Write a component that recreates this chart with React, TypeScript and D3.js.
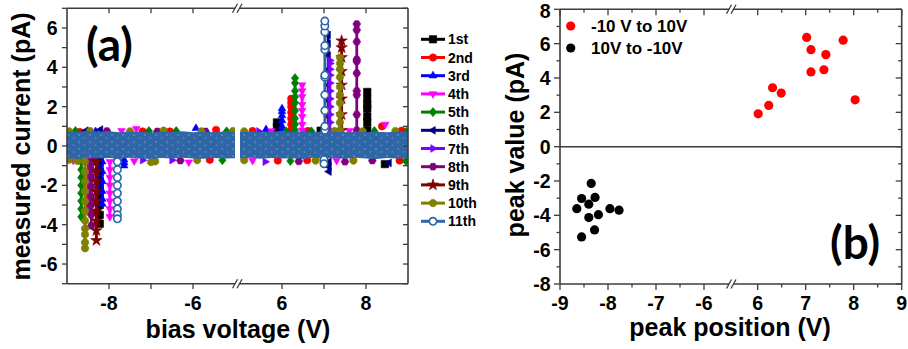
import React from 'react';
import * as d3 from 'd3';

// ---------- shared ----------
const FONT = '"Liberation Sans", Arial, Helvetica, sans-serif';
const LABEL_FONT = 'Lato, "Open Sans", sans-serif';
const AXIS = '#3c3c3c';

// ---------- panel (a) data ----------
const seriesNames = ['1st', '2nd', '3rd', '4th', '5th', '6th', '7th', '8th', '9th', '10th', '11th'];
const seriesColors = ['#000000', '#ff0000', '#0000ff', '#ff00ff', '#008000', '#000080', '#8000ff', '#800080', '#800000', '#808000', '#2e66a8'];
const seriesMarkers = ['square', 'circle', 'triUp', 'triDown', 'diamond', 'triLeft', 'triRight', 'hexagon', 'star', 'pentagon', 'openCircle'];

// envelope of the dense (11th) background sweep, both voltage windows
const bandVoltLeft = [-9, -8.75, -8.5, -8.25, -8, -7.75, -7.5, -7.25, -7, -6.75, -6.5, -6.25, -6, -5.75, -5.5, -5.25, -5];
const bandUpperLeft = [0.74, 0.71, 0.76, 0.72, 0.75, 0.7, 0.74, 0.72, 0.69, 0.74, 0.71, 0.75, 0.7, 0.73, 0.7, 0.74, 0.72];
const bandLowerLeft = [-0.62, -0.66, -0.6, -0.64, -0.61, -0.65, -0.6, -0.63, -0.66, -0.61, -0.64, -0.6, -0.63, -0.65, -0.61, -0.63, -0.62];
const bandVoltRight = [5, 5.25, 5.5, 5.75, 6, 6.25, 6.5, 6.75, 7, 7.25, 7.5, 7.75, 8, 8.25, 8.5, 8.75, 9];
const bandUpperRight = [0.71, 0.74, 0.7, 0.73, 0.76, 0.71, 0.74, 0.7, 0.75, 0.72, 0.7, 0.74, 0.71, 0.73, 0.7, 0.74, 0.72];
const bandLowerRight = [-0.63, -0.6, -0.65, -0.61, -0.64, -0.62, -0.66, -0.6, -0.64, -0.61, -0.65, -0.6, -0.63, -0.66, -0.61, -0.64, -0.62];

// colored points peeking out of the noise band: [series, voltage, current]
const rimPoints: [number, number, number][] = [
  [9, -8.95, 0.74], [4, -8.8, 0.76], [1, -8.7, 0.72], [5, -8.55, 0.78], [9, -8.45, 0.76], [2, -8.32, 0.74],
  [5, -8.2, 0.84], [7, -8.05, 0.76], [3, -7.7, 0.78], [9, -7.5, 0.74], [3, -7.35, 0.88], [1, -7.2, 0.74],
  [4, -7.05, 0.76], [7, -6.85, 0.74], [9, -6.7, 0.78], [1, -6.55, 0.74], [4, -6.4, 0.76], [2, -5.93, 0.9],
  [9, -5.8, 0.74], [7, -5.7, 0.74], [1, -5.45, 0.82], [4, -5.2, 0.74], [9, -5.05, 0.76],
  [9, 5.1, 0.74], [1, 5.3, 0.76], [6, 5.45, 0.74], [2, 5.62, 0.84], [3, 5.75, 0.76], [4, 6.1, 0.74],
  [1, 6.62, 0.76], [4, 6.7, 0.74], [0, 6.92, 0.78], [9, 7.25, 0.76], [3, 7.6, 0.78], [9, 7.92, 0.74],
  [4, 8.2, 0.76], [1, 8.38, 1.0], [3, 8.46, 1.1], [9, 8.7, 0.76], [1, 8.85, 0.78], [4, 8.96, 0.72],
  [9, -8.95, -0.7], [3, -8.85, -0.74], [9, -8.75, -0.76], [7, -8.35, -0.72], [1, -7.8, -0.7],
  [3, -7.4, -0.76], [6, -7.2, -0.72], [9, -7.0, -0.82], [9, -6.9, -0.78], [6, -6.5, -0.72],
  [7, -6.3, -0.74], [3, -6.1, -0.82], [9, -5.9, -0.72], [1, -5.6, -0.7], [4, -5.3, -0.72],
  [9, 5.1, -0.72], [3, 5.3, -0.74], [6, 5.6, -0.8], [1, 5.9, -0.74], [4, 6.2, -0.76], [7, 6.4, -0.78],
  [1, 6.6, -0.72], [9, 6.8, -0.74], [3, 7.3, -0.74], [7, 7.5, -0.8], [9, 7.7, -0.74], [7, 8.15, -0.74],
  [0, 8.45, -0.92], [5, 8.55, -0.86], [1, 8.8, -0.74], [4, 8.95, -0.76],
];

// current spikes: [series, voltage, sampled currents]
const spikes: [number, number, number[]][] = [
  [0, 8.03, [0.8, 1.2, 1.5, 1.9, 2.1, 2.4, 2.75]],
  [0, 5.88, [0.7, 0.95, 1.2]],
  [0, -8.22, [-0.8, -1.3, -1.8, -2.2, -2.6, -3.0, -3.5, -3.95]],
  [1, 6.22, [0.8, 1.1, 1.4, 1.7, 2.0, 2.2, 2.4]],
  [1, -8.5, [-0.8, -1.3, -1.8, -2.3, -2.7, -3.0]],
  [2, 6.0, [0.8, 1.0, 1.3, 1.55, 1.75, 1.9]],
  [2, -8.16, [-0.8, -1.3, -1.8, -2.3, -2.7, -2.95]],
  [2, -7.64, [-0.7, -0.85, -1.0]],
  [3, 6.48, [0.8, 1.1, 1.5, 1.8, 2.1, 2.5, 2.8, 3.1]],
  [3, -7.98, [-0.8, -1.2, -1.6, -2.0, -2.4, -2.8, -3.2, -3.6]],
  [4, 6.31, [0.8, 1.1, 1.4, 1.8, 2.2, 2.5, 2.8, 3.2, 3.45]],
  [4, -8.66, [-0.8, -1.2, -1.6, -2.0, -2.4, -2.8, -3.2, -3.6]],
  [5, 7.1, [0.8, 1.5, 2.3, 3.1, 3.9, 4.6, 5.2, 5.65]],
  [5, 7.12, [-0.8, -1.05, -1.3]],
  [5, -8.24, [-0.8, -1.2, -1.6, -2.1]],
  [6, 7.14, [0.8, 1.2, 1.6, 2.0, 2.4, 2.8, 3.2, 3.6, 3.9, 4.2, 4.35]],
  [6, -8.45, [-0.8, -1.3, -1.8, -2.3, -2.8, -3.35]],
  [7, 7.78, [0.8, 1.6, 2.6, 2.8, 3.7, 4.3, 4.4, 5.3, 5.9, 6.2]],
  [7, -8.42, [-0.8, -1.2, -1.6, -2.1, -2.6, -3.0, -3.5, -4.05]],
  [8, 7.42, [0.8, 1.6, 2.4, 3.1, 3.8, 4.5, 5.0, 5.35]],
  [8, -8.3, [-0.8, -1.3, -1.8, -2.3, -2.8, -3.3, -3.8, -4.3, -4.8]],
  [9, 7.38, [0.8, 1.2, 1.6, 2.2, 2.6, 3.0, 3.5, 3.9, 4.2, 4.5]],
  [9, -8.57, [-0.8, -1.3, -1.8, -2.3, -2.8, -3.3, -3.8, -4.2, -4.5, -4.9, -5.2]],
  [10, 7.02, [0.8, 1.0, 1.8, 2.6, 3.5, 3.6, 4.9, 5.1, 5.8, 6.1, 6.35]],
  [10, 7.0, [-0.7, -0.9]],
  [10, -7.8, [-0.8, -1.2, -1.6, -2.0, -2.4, -2.8, -3.2, -3.5, -3.7]],
];

const aYTicks = [-7, -6, -5, -4, -3, -2, -1, 0, 1, 2, 3, 4, 5, 6, 7];
const aYLabels = [-6, -4, -2, 0, 2, 4, 6];
const aXTicksLeft = [-8, -7, -6];
const aXTicksRight = [6, 7, 8];
const aXLabelsLeft = [-8, -6];
const aXLabelsRight = [6, 8];

// ---------- panel (b) data ----------
const upSweepPos = [6.01, 6.23, 6.31, 6.49, 7.02, 7.11, 7.11, 7.38, 7.42, 7.78, 8.03];
const upSweepVal = [1.91, 2.4, 3.43, 3.12, 6.36, 5.65, 4.35, 4.48, 5.36, 6.2, 2.73];
const downSweepPos = [-8.65, -8.55, -8.55, -8.4, -8.4, -8.35, -8.27, -8.28, -8.2, -7.96, -7.77];
const downSweepVal = [-3.61, -3.02, -5.26, -3.35, -4.13, -2.14, -2.96, -4.85, -3.96, -3.61, -3.7];
const legendB = ['-10 V to 10V', '10V to -10V'];
const legendBColors = ['#ff0000', '#000000'];

const bYMajor = [-8, -6, -4, -2, 0, 2, 4, 6, 8];
const bYMinor = [-7, -5, -3, -1, 1, 3, 5, 7];
const bXMajorLeft = [-9, -8, -7, -6];
const bXMajorRight = [6, 7, 8, 9];
const bXMinorLeft = [-8.5, -7.5, -6.5];
const bXMinorRight = [6.5, 7.5, 8.5];

// ---------- scales ----------
const aY = d3.scaleLinear().domain([-7, 7]).range([283.7, 8.3]);
const aXL = d3.scaleLinear().domain([-9, -5]).range([67, 235]);
const aXR = d3.scaleLinear().domain([5, 9]).range([240, 408]);
const aX = (v: number) => (v < 0 ? aXL(v) : aXR(v));

const bY = d3.scaleLinear().domain([-8, 8]).range([284, 9.3]);
const bXL = d3.scaleLinear().domain([-9, -5.5]).range([560, 728]);
const bXR = d3.scaleLinear().domain([5.5, 9]).range([733.7, 901.7]);
const bX = (v: number) => (v < 0 ? bXL(v) : bXR(v));

// ---------- marker shapes ----------
function polygon(n: number, r: number, rot: number): string {
  const pts: string[] = [];
  for (let k = 0; k < n; k++) {
    const a = rot + (k * 2 * Math.PI) / n;
    pts.push(`${(r * Math.cos(a)).toFixed(2)},${(r * Math.sin(a)).toFixed(2)}`);
  }
  return 'M' + pts.join('L') + 'Z';
}
function markerPath(kind: string, s: number): string {
  const r = s / 2;
  switch (kind) {
    case 'square':
      return `M${-r},${-r}h${s}v${s}h${-s}Z`;
    case 'circle':
    case 'openCircle':
      return `M${r},0A${r},${r} 0 1,1 ${-r},0A${r},${r} 0 1,1 ${r},0Z`;
    case 'triUp':
      return polygon(3, r * 1.2, -Math.PI / 2);
    case 'triDown':
      return polygon(3, r * 1.2, Math.PI / 2);
    case 'triLeft':
      return polygon(3, r * 1.2, Math.PI);
    case 'triRight':
      return polygon(3, r * 1.2, 0);
    case 'diamond':
      return `M0,${-r * 1.25}L${r},0L0,${r * 1.25}L${-r},0Z`;
    case 'hexagon':
      return polygon(6, r * 1.05, 0);
    case 'pentagon':
      return polygon(8, r * 1.05, Math.PI / 8);
    case 'star':
      return d3.symbol().type(d3.symbolStar).size(s * s * 0.75)() || '';
    default:
      return '';
  }
}

const Marker = ({ s, x, y, size = 7.4 }: { s: number; x: number; y: number; size?: number }) => (
  <path
    d={markerPath(seriesMarkers[s], size)}
    transform={`translate(${x},${y})`}
    fill={seriesMarkers[s] === 'openCircle' ? '#ffffff' : seriesColors[s]}
    stroke={seriesColors[s]}
    strokeWidth={seriesMarkers[s] === 'openCircle' ? 1.6 : 0.6}
  />
);

// ---------- frame with axis break ----------
function BrokenFrame({ x0, x1, g0, g1, yT, yB }: { x0: number; x1: number; g0: number; g1: number; yT: number; yB: number }) {
  const slash = (cx: number, y: number, k: string) => (
    <line key={k} x1={cx - 2.5} y1={y + 4.5} x2={cx + 2.5} y2={y - 4.5} stroke={AXIS} strokeWidth={1.3} />
  );
  return (
    <g stroke={AXIS} strokeWidth={1.6} fill="none">
      <line x1={x0} y1={yT} x2={x0} y2={yB} />
      <line x1={x1} y1={yT} x2={x1} y2={yB} />
      <line x1={x0} y1={yT} x2={g0} y2={yT} />
      <line x1={g1} y1={yT} x2={x1} y2={yT} />
      <line x1={x0} y1={yB} x2={g0} y2={yB} />
      <line x1={g1} y1={yB} x2={x1} y2={yB} />
      {slash(g0, yT, 'a')}
      {slash(g1, yT, 'b')}
      {slash(g0, yB, 'c')}
      {slash(g1, yB, 'd')}
    </g>
  );
}

function PanelA() {
  const bandPath = (volts: number[], up: number[], lo: number[], sx: d3.ScaleLinear<number, number>) =>
    d3
      .area<number>()
      .x((v) => sx(v))
      .y0((_, i) => aY(lo[i]))
      .y1((_, i) => aY(up[i]))(volts) || '';
  const line = d3.line<[number, number]>().x((d) => d[0]).y((d) => d[1]);

  const drawSeries = (s: number) => (
    <g key={'s' + s}>
      {rimPoints
        .filter((p) => p[0] === s)
        .map((p, i) => (
          <Marker key={'r' + i} s={s} x={aX(p[1])} y={aY(p[2])} />
        ))}
      {spikes
        .filter((sp) => sp[0] === s)
        .map((sp, i) => {
          const pts: [number, number][] = sp[2].map((c) => [aX(sp[1]), aY(c)]);
          return (
            <g key={'k' + i}>
              <path d={line(pts) || ''} stroke={seriesColors[s]} strokeWidth={2.8} fill="none" />
              {sp[2].map((c, j) => (
                <Marker key={j} s={s} x={aX(sp[1])} y={aY(c)} />
              ))}
            </g>
          );
        })}
    </g>
  );

  const legendY = (i: number) => 39.3 + i * 18.2;

  return (
    <g>
      <defs>
        <clipPath id="clipAL">
          <rect x={67} y={8.3} width={168} height={275.4} />
        </clipPath>
        <clipPath id="clipAR">
          <rect x={240} y={8.3} width={168} height={275.4} />
        </clipPath>
        <pattern id="speck" width={11} height={7} patternUnits="userSpaceOnUse">
          <circle cx={2} cy={2} r={1.1} fill="#7d9fcb" />
          <circle cx={7.5} cy={5} r={1} fill="#6f93c2" />
        </pattern>
      </defs>
      {[0, 1].map((seg) => (
        <g key={seg} clipPath={seg === 0 ? 'url(#clipAL)' : 'url(#clipAR)'}>
          {d3.range(10).map((s) => drawSeries(s))}
          <path
            d={seg === 0 ? bandPath(bandVoltLeft, bandUpperLeft, bandLowerLeft, aXL) : bandPath(bandVoltRight, bandUpperRight, bandLowerRight, aXR)}
            fill={seriesColors[10]}
          />
          <path
            d={seg === 0 ? bandPath(bandVoltLeft, bandUpperLeft, bandLowerLeft, aXL) : bandPath(bandVoltRight, bandUpperRight, bandLowerRight, aXR)}
            fill="url(#speck)"
            opacity={0.55}
          />
          {drawSeries(10)}
        </g>
      ))}

      <BrokenFrame x0={67} x1={408} g0={235} g1={239.5} yT={8.3} yB={283.7} />

      <g stroke={AXIS} strokeWidth={1.3}>
        {aYTicks.map((t) => (
          <g key={t}>
            <line x1={62} x2={67} y1={aY(t)} y2={aY(t)} />
            <line x1={403} x2={408} y1={aY(t)} y2={aY(t)} />
          </g>
        ))}
        {[...aXTicksLeft.map((t) => aXL(t)), ...aXTicksRight.map((t) => aXR(t))].map((x, i) => (
          <g key={i}>
            <line x1={x} x2={x} y1={283.7} y2={289} />
            <line x1={x} x2={x} y1={8.3} y2={13.3} />
          </g>
        ))}
      </g>

      <g fontFamily={FONT} fontWeight="bold" fontSize={19.5} fill="#000">
        {aYLabels.map((t) => (
          <text key={t} x={57.5} y={aY(t) + 7} textAnchor="end">
            {t}
          </text>
        ))}
        {aXLabelsLeft.map((t) => (
          <text key={t} x={aXL(t)} y={309.5} textAnchor="middle">
            {t}
          </text>
        ))}
        {aXLabelsRight.map((t) => (
          <text key={t} x={aXR(t)} y={309.5} textAnchor="middle">
            {t}
          </text>
        ))}
      </g>
      <text x={238} y={338} textAnchor="middle" fontFamily={FONT} fontWeight="bold" fontSize={25}>
        bias voltage (V)
      </text>
      <text
        transform="translate(30,146.5) rotate(-90)"
        textAnchor="middle"
        fontFamily={FONT}
        fontWeight="bold"
        fontSize={25}
      >
        measured current (pA)
      </text>
      <text x={86} y={61} fontFamily={LABEL_FONT} fontWeight="bold" fontSize={46}>
        (a)
      </text>

      {seriesNames.map((n, i) => (
        <g key={n}>
          <line x1={421} x2={445} y1={legendY(i)} y2={legendY(i)} stroke={seriesColors[i]} strokeWidth={3} />
          <Marker s={i} x={433} y={legendY(i)} size={7.4} />
          <text x={448} y={legendY(i) + 5} fontFamily={FONT} fontWeight="bold" fontSize={14}>
            {n}
          </text>
        </g>
      ))}
    </g>
  );
}

function PanelB() {
  return (
    <g>
      <line x1={560} x2={901.7} y1={bY(0)} y2={bY(0)} stroke={AXIS} strokeWidth={1.5} />
      {downSweepPos.map((p, i) => (
        <circle key={'d' + i} cx={bX(p)} cy={bY(downSweepVal[i])} r={4.6} fill="#000" />
      ))}
      {upSweepPos.map((p, i) => (
        <circle key={'u' + i} cx={bX(p)} cy={bY(upSweepVal[i])} r={4.6} fill="#ff0000" />
      ))}

      <BrokenFrame x0={560} x1={901.7} g0={729} g1={733.5} yT={9.3} yB={284} />

      <g stroke={AXIS} strokeWidth={1.3}>
        {bYMajor.map((t) => (
          <g key={t}>
            <line x1={554} x2={560} y1={bY(t)} y2={bY(t)} />
            <line x1={895.7} x2={901.7} y1={bY(t)} y2={bY(t)} />
          </g>
        ))}
        {bYMinor.map((t) => (
          <g key={t}>
            <line x1={556.5} x2={560} y1={bY(t)} y2={bY(t)} />
            <line x1={898.2} x2={901.7} y1={bY(t)} y2={bY(t)} />
          </g>
        ))}
        {[...bXMajorLeft.map((t) => bXL(t)), ...bXMajorRight.map((t) => bXR(t))].map((x, i) => (
          <g key={'M' + i}>
            <line x1={x} x2={x} y1={284} y2={290} />
            <line x1={x} x2={x} y1={9.3} y2={15.3} />
          </g>
        ))}
        {[...bXMinorLeft.map((t) => bXL(t)), ...bXMinorRight.map((t) => bXR(t))].map((x, i) => (
          <g key={'m' + i}>
            <line x1={x} x2={x} y1={284} y2={287.5} />
            <line x1={x} x2={x} y1={9.3} y2={12.8} />
          </g>
        ))}
      </g>

      <g fontFamily={FONT} fontWeight="bold" fontSize={19.5} fill="#000">
        {bYMajor.map((t) => (
          <text key={t} x={550.5} y={Math.max(bY(t) + 7, 18)} textAnchor="end">
            {t}
          </text>
        ))}
        {bXMajorLeft.map((t) => (
          <text key={t} x={bXL(t)} y={309.5} textAnchor="middle">
            {t}
          </text>
        ))}
        {bXMajorRight.map((t) => (
          <text key={t} x={bXR(t)} y={309.5} textAnchor="middle">
            {t}
          </text>
        ))}
      </g>
      <text x={730} y={336} textAnchor="middle" fontFamily={FONT} fontWeight="bold" fontSize={25}>
        peak position (V)
      </text>
      <text transform="translate(524,145) rotate(-90)" textAnchor="middle" fontFamily={FONT} fontWeight="bold" fontSize={25}>
        peak value (pA)
      </text>
      <text x={830} y={259} fontFamily={LABEL_FONT} fontWeight="bold" fontSize={46}>
        (b)
      </text>

      {legendB.map((t, i) => (
        <g key={t}>
          <circle cx={570.7} cy={26 + i * 22} r={4.6} fill={legendBColors[i]} />
          <text x={591} y={32 + i * 22} fontFamily={FONT} fontWeight="bold" fontSize={17}>
            {t}
          </text>
        </g>
      ))}
    </g>
  );
}

export default function App() {
  return (
    <svg
      width={908}
      height={349}
      viewBox="0 0 908 349"
      style={{ position: 'absolute', left: 0, top: 0, background: '#fff' }}
    >
      <rect width={908} height={349} fill="#fff" />
      <PanelA />
      <PanelB />
    </svg>
  );
}
